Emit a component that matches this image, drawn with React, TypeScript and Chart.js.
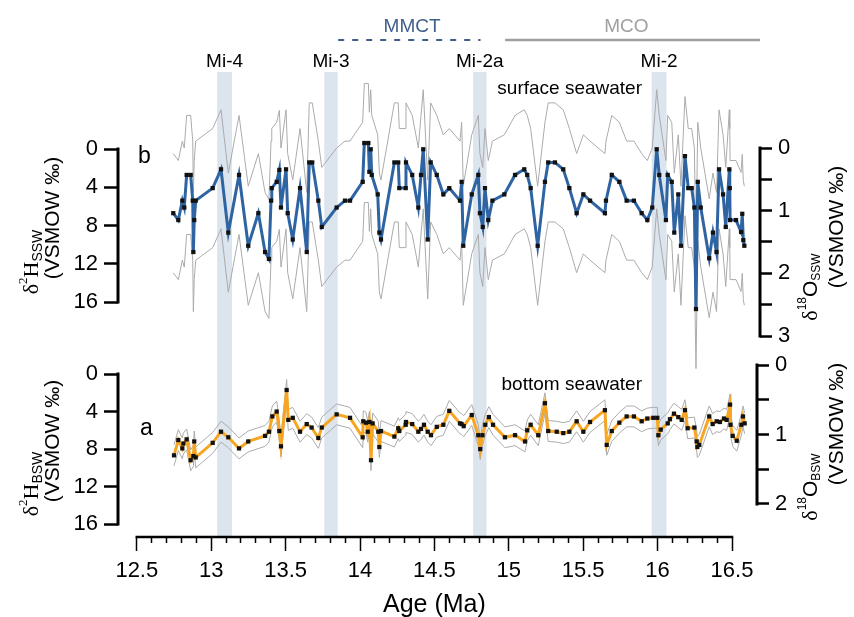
import React, { useEffect, useRef } from 'react';
import { Chart, registerables } from 'chart.js';

Chart.register(...registerables);

// ---------------- data ----------------
// Surface seawater δ18O (‰ VSMOW) vs age (Ma)
const SSW_AGE = [12.745, 12.779, 12.806, 12.819, 12.835, 12.862, 12.876, 12.88, 12.886, 12.896, 13.01, 13.066, 13.115, 13.187, 13.249, 13.317, 13.362, 13.388, 13.402, 13.407, 13.44, 13.458, 13.469, 13.503, 13.514, 13.548, 13.597, 13.642, 13.659, 13.679, 13.72, 13.743, 13.843, 13.899, 13.933, 14.018, 14.029, 14.056, 14.063, 14.072, 14.079, 14.119, 14.13, 14.141, 14.231, 14.257, 14.264, 14.307, 14.309, 14.351, 14.392, 14.41, 14.425, 14.455, 14.475, 14.516, 14.56, 14.6, 14.672, 14.683, 14.694, 14.751, 14.795, 14.806, 14.825, 14.84, 14.862, 14.89, 14.97, 15.042, 15.104, 15.124, 15.147, 15.194, 15.243, 15.265, 15.31, 15.366, 15.407, 15.456, 15.501, 15.546, 15.646, 15.653, 15.692, 15.743, 15.792, 15.841, 15.893, 15.931, 15.964, 15.994, 16.011, 16.056, 16.068, 16.095, 16.112, 16.139, 16.157, 16.184, 16.206, 16.229, 16.247, 16.258, 16.27, 16.29, 16.347, 16.372, 16.396, 16.413, 16.44, 16.458, 16.482, 16.485, 16.487, 16.527, 16.561, 16.569, 16.576, 16.583];
const SSW_D18O = [1.04, 1.15, 0.84, 0.95, 0.43, 0.43, 0.84, 1.66, 1.15, 0.84, 0.64, 0.34, 1.35, 0.43, 1.56, 1.04, 1.66, 1.77, 0.84, 0.64, 0.54, 0.35, 0.95, 0.34, 1.04, 1.46, 0.64, 1.66, 0.23, 0.23, 0.84, 1.26, 0.95, 0.84, 0.84, 0.54, -0.08, -0.08, 0.38, 0.02, 0.43, 0.74, 1.35, 1.46, 0.23, 0.23, 0.64, 0.64, 0.23, 0.43, 0.95, 0.43, 0.02, 1.46, 0.23, 0.43, 0.74, 0.64, 0.84, 0.54, 1.56, 0.74, 0.43, 1.04, 1.26, 0.64, 1.15, 0.84, 0.74, 0.43, 0.34, 0.43, 0.64, 1.56, 0.54, 0.23, 0.23, 0.34, 0.64, 1.04, 0.74, 0.84, 1.04, 0.84, 0.43, 0.54, 0.84, 0.84, 1.04, 1.15, 0.95, 0.02, 0.43, 1.15, 0.43, 0.54, 1.35, 0.74, 1.56, 0.13, 0.64, 0.64, 0.95, 2.57, 0.54, 0.95, 1.76, 1.35, 1.66, 0.34, 0.74, 1.26, 0.34, 0.64, 1.15, 1.15, 1.34, 1.05, 1.47, 1.56];
const SSW_ERR = 0.95; // half-width of the grey uncertainty envelope

// Bottom seawater δ18O (‰ VSMOW) vs age (Ma)
const BSW_AGE = [12.75, 12.779, 12.806, 12.813, 12.835, 12.862, 12.88, 12.886, 12.896, 13.01, 13.066, 13.115, 13.187, 13.249, 13.362, 13.388, 13.411, 13.44, 13.458, 13.469, 13.507, 13.518, 13.548, 13.597, 13.642, 13.675, 13.72, 13.743, 13.843, 13.933, 14.018, 14.022, 14.04, 14.052, 14.063, 14.074, 14.085, 14.123, 14.13, 14.141, 14.231, 14.257, 14.264, 14.307, 14.309, 14.351, 14.392, 14.41, 14.43, 14.455, 14.477, 14.516, 14.56, 14.6, 14.672, 14.683, 14.697, 14.751, 14.795, 14.808, 14.823, 14.842, 14.866, 14.894, 14.974, 15.042, 15.109, 15.124, 15.147, 15.198, 15.243, 15.265, 15.322, 15.366, 15.407, 15.456, 15.501, 15.546, 15.646, 15.658, 15.692, 15.743, 15.792, 15.841, 15.893, 15.931, 15.971, 15.998, 16.005, 16.021, 16.068, 16.083, 16.11, 16.139, 16.162, 16.184, 16.202, 16.247, 16.263, 16.267, 16.28, 16.347, 16.37, 16.397, 16.419, 16.446, 16.464, 16.487, 16.49, 16.505, 16.532, 16.563, 16.574, 16.585];
const BSW_D18O = [1.3, 1.08, 1.2, 1.13, 1.07, 1.37, 1.31, 1.1, 1.33, 1.12, 0.96, 1.04, 1.2, 1.1, 1.02, 0.96, 0.74, 0.67, 0.95, 1.17, 0.36, 0.79, 0.76, 0.96, 0.85, 0.9, 1.05, 0.9, 0.71, 0.76, 1.04, 0.81, 0.83, 0.96, 0.82, 1.37, 0.84, 0.96, 1.18, 0.95, 1.03, 0.91, 0.95, 0.86, 0.82, 0.85, 0.96, 0.92, 0.86, 0.96, 1.01, 0.89, 0.86, 0.66, 0.84, 0.85, 0.88, 0.72, 1.01, 1.21, 1.01, 0.86, 0.75, 0.86, 1.04, 1.01, 1.1, 0.94, 0.86, 1.01, 0.55, 0.95, 0.96, 0.98, 0.96, 0.81, 0.96, 0.82, 0.65, 1.15, 0.95, 0.83, 0.74, 0.74, 0.81, 0.77, 0.76, 0.76, 1.01, 0.93, 0.84, 0.78, 0.7, 0.75, 0.79, 0.65, 0.91, 0.9, 1.1, 1.18, 1.15, 0.74, 0.85, 0.81, 0.82, 0.77, 0.79, 0.57, 0.86, 1.02, 1.09, 0.86, 0.74, 0.84];
const BSW_ERR = 0.15;

// Glacial events (Ma)
const MI_NAMES = ['Mi-4', 'Mi-3', 'Mi-2a', 'Mi-2'];
const MI_START = [13.04, 13.76, 14.76, 15.96];
const MI_END = [13.14, 13.85, 14.85, 16.06];

// Climate intervals (Ma)
const EPOCH_NAMES = ['MMCT', 'MCO'];
const EPOCH_START = [13.84, 14.975];
const EPOCH_END = [14.81, 17.0];
const EPOCH_LABEL_AGE = [14.35, 15.79];

// Tick values
const AGE_TICKS = Array.from({ length: 41 }, (_, i) => Math.round((12.5 + i * 0.1) * 10) / 10);
const H2_TICKS = [0, 4, 8, 12, 16];
const SSW_TICKS = [0, 0.5, 1, 1.5, 2, 2.5, 3];
const BSW_TICKS = [0, 0.5, 1, 1.5, 2];

// ---------------- layout ----------------
const W = 854;
const H = 617;
const SANS = "'Liberation Sans', Arial, Helvetica, sans-serif";
const SERIF = "'Liberation Serif', 'Times New Roman', serif";
const TOP = 72;
const BOTTOM = 537;
const LEFT = 118;
const AGE_PX = [136.8, 732];
const TICK_FONT = 22;

const BLUE = '#2f64a3';
const ORANGE = '#f6a623';
const GREY = '#ababab';
const BAND = '#dce4ee';

function xRange(left: number, right: number) {
  const k = (AGE_PX[1] - AGE_PX[0]) / 4;
  const min = 12.5 - (AGE_PX[0] - left) / k;
  return { min, max: min + (right - left) / k };
}
function yRange(p0: number, p1: number, v0: number, v1: number) {
  const k = (p1 - p0) / (v1 - v0);
  return { min: v0 + (TOP - p0) / k, max: v0 + (BOTTOM - p0) / k };
}

type Seg = [string, string, number?];
function drawRich(ctx: CanvasRenderingContext2D, segs: Seg[], cx: number, cy: number, rot: number, color = '#000') {
  ctx.save();
  ctx.translate(cx, cy);
  ctx.rotate(rot);
  ctx.textBaseline = 'middle';
  ctx.textAlign = 'left';
  ctx.fillStyle = color;
  const widths = segs.map(s => { ctx.font = s[1]; return ctx.measureText(s[0]).width; });
  const total = widths.reduce((a, b) => a + b, 0);
  let x = -total / 2;
  segs.forEach((s, i) => { ctx.font = s[1]; ctx.fillText(s[0], x, s[2] || 0); x += widths[i]; });
  ctx.restore();
}

const spinePlugin = {
  id: 'spines',
  afterDraw(chart: any) {
    const ctx = chart.ctx;
    ctx.save();
    ctx.strokeStyle = '#000';
    ctx.lineCap = 'square';
    Object.values(chart.scales).forEach((s: any) => {
      if (!s.options.display || !s.ticks.length) return;
      const a = s.getPixelForValue(s.ticks[0].value);
      const b = s.getPixelForValue(s.ticks[s.ticks.length - 1].value);
      ctx.beginPath();
      if (s.isHorizontal()) {
        ctx.lineWidth = 2.5;
        ctx.moveTo(a, s.top);
        ctx.lineTo(b, s.top);
      } else {
        const x = s.position === 'left' ? s.right : s.left;
        ctx.lineWidth = 3;
        ctx.moveTo(x, a);
        ctx.lineTo(x, b);
      }
      ctx.stroke();
    });
    ctx.restore();
  },
};

const bandsPlugin = {
  id: 'miBands',
  beforeDatasetsDraw(chart: any) {
    const { ctx, chartArea, scales } = chart;
    const x = scales.x;
    ctx.save();
    ctx.fillStyle = BAND;
    MI_START.forEach((s, i) => {
      const l = x.getPixelForValue(s);
      const r = x.getPixelForValue(MI_END[i]);
      ctx.fillRect(l, chartArea.top, r - l, chartArea.bottom - chartArea.top);
    });
    ctx.restore();
  },
};

const topTextPlugin = {
  id: 'topText',
  afterDraw(chart: any) {
    const { ctx, chartArea, scales } = chart;
    const x = scales.x;
    ctx.save();
    ctx.fillStyle = '#000';
    ctx.textAlign = 'center';
    ctx.textBaseline = 'alphabetic';
    ctx.font = `19px ${SANS}`;
    MI_NAMES.forEach((n, i) => {
      ctx.fillText(n, x.getPixelForValue((MI_START[i] + MI_END[i]) / 2), chartArea.top - 5);
    });
    // climate intervals
    EPOCH_NAMES.forEach((n, i) => {
      const col = i === 0 ? '#3f5f88' : '#a0a0a0';
      const l = x.getPixelForValue(EPOCH_START[i]);
      const r = Math.min(x.getPixelForValue(EPOCH_END[i]), chartArea.right);
      ctx.fillStyle = col;
      ctx.font = `19px ${SANS}`;
      ctx.fillText(n, x.getPixelForValue(EPOCH_LABEL_AGE[i]), 32);
      ctx.strokeStyle = col;
      ctx.lineWidth = i === 0 ? 2 : 2.5;
      ctx.setLineDash(i === 0 ? [6, 8] : []);
      ctx.lineDashOffset = i === 0 ? 12 : 0;
      ctx.beginPath();
      ctx.moveTo(l, 40);
      ctx.lineTo(r, 40);
      ctx.stroke();
    });
    ctx.setLineDash([]);
    ctx.fillStyle = '#000';
    ctx.font = `19px ${SANS}`;
    ctx.textAlign = 'right';
    ctx.fillText('surface seawater', 642, 94);
    ctx.textAlign = 'left';
    ctx.font = `23px ${SANS}`;
    ctx.fillText('b', 138, 163);
    ctx.restore();
    const rot = -Math.PI / 2;
    drawRich(ctx, [['δ', `22px ${SERIF}`], ['2', `13px ${SERIF}`, -8], ['H', `22px ${SERIF}`], ['SSW', `14px ${SANS}`, 6]], 32, 262, rot);
    drawRich(ctx, [['(VSMOW ‰)', `21px ${SANS}`]], 53, 218, rot);
    drawRich(ctx, [['δ', `22px ${SERIF}`], ['18', `12px ${SANS}`, -8], ['O', `21px ${SANS}`], ['SSW', `12px ${SANS}`, 6]], 811, 287, rot);
    drawRich(ctx, [['(VSMOW ‰)', `21px ${SANS}`]], 837, 227, rot);
  },
};

const bottomTextPlugin = {
  id: 'bottomText',
  afterDraw(chart: any) {
    const { ctx, scales } = chart;
    const x = scales.x;
    ctx.save();
    ctx.fillStyle = '#000';
    ctx.textBaseline = 'alphabetic';
    ctx.font = `19px ${SANS}`;
    ctx.textAlign = 'right';
    ctx.fillText('bottom seawater', 642, 390);
    ctx.textAlign = 'left';
    ctx.font = `23px ${SANS}`;
    ctx.fillText('a', 140, 435);
    ctx.textAlign = 'center';
    ctx.textBaseline = 'middle';
    ctx.font = `25px ${SANS}`;
    ctx.fillText('Age (Ma)', (x.getPixelForValue(12.5) + x.getPixelForValue(16.5)) / 2, 605);
    ctx.restore();
    const rot = -Math.PI / 2;
    drawRich(ctx, [['δ', `22px ${SERIF}`], ['2', `13px ${SERIF}`, -8], ['H', `22px ${SERIF}`], ['BSW', `14px ${SANS}`, 6]], 32, 484, rot);
    drawRich(ctx, [['(VSMOW ‰)', `21px ${SANS}`]], 53, 441, rot);
    drawRich(ctx, [['δ', `22px ${SERIF}`], ['18', `12px ${SANS}`, -8], ['O', `21px ${SANS}`], ['BSW', `12px ${SANS}`, 6]], 811, 487, rot);
    drawRich(ctx, [['(VSMOW ‰)', `21px ${SANS}`]], 837, 424, rot);
  },
};

function yAxis(side: 'left' | 'right', range: { min: number; max: number }, values: number[], width: number) {
  return {
    type: 'linear',
    position: side,
    reverse: true,
    min: range.min,
    max: range.max,
    afterFit: (s: any) => { s.width = width; },
    afterBuildTicks: (s: any) => { s.ticks = values.map(v => ({ value: v })); },
    grid: { drawOnChartArea: false, drawTicks: true, tickLength: side === 'left' ? 14 : 12, tickWidth: 2.5, tickColor: '#000' },
    border: { display: false },
    ticks: {
      autoSkip: false,
      padding: side === 'left' ? 6 : 6,
      color: '#000',
      font: { family: SANS, size: TICK_FONT },
      callback: (v: number) => (Number.isInteger(v) ? String(v) : ''),
    },
  };
}

function seriesSets(ages: number[], vals: number[], err: number, color: string, axis: string) {
  const pts = (off: number) => ages.map((a, i) => ({ x: a, y: vals[i] + off }));
  const env = (off: number) => ({
    data: pts(off), yAxisID: axis, borderColor: GREY, borderWidth: 1, pointRadius: 0, tension: 0, order: 2,
  });
  return [
    env(-err),
    env(err),
    {
      data: pts(0), yAxisID: axis, borderColor: color, borderWidth: 3, tension: 0, order: 1,
      pointStyle: 'rect', pointRadius: 3, pointBackgroundColor: '#111', pointBorderColor: '#111', pointBorderWidth: 0,
    },
  ];
}

const baseOptions = (padBottom: number) => ({
  responsive: false,
  animation: false,
  devicePixelRatio: 1,
  events: [],
  layout: { padding: { top: TOP, bottom: padBottom, left: 0, right: 0 } },
  plugins: { legend: { display: false }, tooltip: { enabled: false }, title: { display: false } },
});

export default function App() {
  const r1 = useRef<HTMLCanvasElement>(null);
  const r2 = useRef<HTMLCanvasElement>(null);

  useEffect(() => {
    const right1 = 760;
    const c1 = new Chart(r1.current as HTMLCanvasElement, {
      type: 'line',
      data: { datasets: seriesSets(SSW_AGE, SSW_D18O, SSW_ERR, BLUE, 'yR') as any },
      options: {
        ...baseOptions(H - BOTTOM),
        scales: {
          x: { type: 'linear', display: false, ...xRange(LEFT, right1) },
          yL: yAxis('left', yRange(149, 302, 0, 16), H2_TICKS, LEFT),
          yR: yAxis('right', yRange(148, 336, 0, 3), SSW_TICKS, W - right1),
        },
      } as any,
      plugins: [bandsPlugin, spinePlugin, topTextPlugin],
    });

    const right2 = 757;
    const c2 = new Chart(r2.current as HTMLCanvasElement, {
      type: 'line',
      data: { datasets: seriesSets(BSW_AGE, BSW_D18O, BSW_ERR, ORANGE, 'yR') as any },
      options: {
        ...baseOptions(0),
        scales: {
          x: {
            type: 'linear',
            position: 'bottom',
            ...xRange(LEFT, right2),
            afterFit: (s: any) => { s.height = H - BOTTOM; },
            afterBuildTicks: (s: any) => { s.ticks = AGE_TICKS.map(v => ({ value: v })); },
            grid: {
              drawOnChartArea: false,
              drawTicks: true,
              tickLength: 14,
              tickWidth: 1.5,
              tickColor: '#000',
              tickBorderDash: (c: any) => (c.tick && Math.abs(c.tick.value * 2 - Math.round(c.tick.value * 2)) < 1e-6 ? [] : [6, 40]),
            },
            border: { display: false },
            ticks: {
              autoSkip: false,
              maxRotation: 0,
              minRotation: 0,
              padding: 7,
              color: '#000',
              font: { family: SANS, size: TICK_FONT },
              callback: (v: number) => (Math.abs(v * 2 - Math.round(v * 2)) < 1e-6 ? String(Number(v.toFixed(1))) : ''),
            },
          },
          yL: yAxis('left', yRange(374, 524, 0, 16), H2_TICKS, LEFT),
          yR: yAxis('right', yRange(365, 504, 0, 2), BSW_TICKS, W - right2),
        },
      } as any,
      plugins: [spinePlugin, bottomTextPlugin],
    });

    return () => { c1.destroy(); c2.destroy(); };
  }, []);

  const st: React.CSSProperties = { position: 'absolute', left: 0, top: 0 };
  return (
    <div style={{ position: 'absolute', left: 0, top: 0, width: W, height: H, background: '#fff' }}>
      <canvas ref={r1} width={W} height={H} style={st} />
      <canvas ref={r2} width={W} height={H} style={st} />
    </div>
  );
}
